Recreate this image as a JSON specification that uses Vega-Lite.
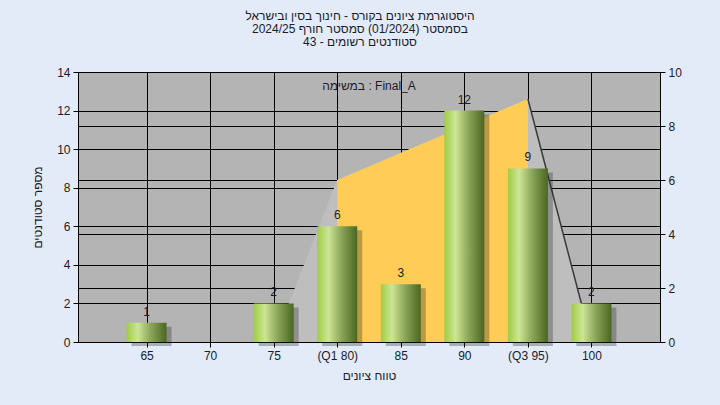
{
  "$schema": "https://vega.github.io/schema/vega-lite/v6.json",
  "width": 582,
  "height": 270,
  "autosize": "none",
  "padding": {"left": 78, "top": 72, "right": 60, "bottom": 63},
  "background": "#E2EBF7",
  "title": {
    "text": ["היסטוגרמת ציונים בקורס - חינוך בסין ובישראל", "בסמסטר  (01/2024)  סמסטר חורף 2024/25", "סטודנטים רשומים - 43"],
    "anchor": "middle",
    "dx": -9,
    "offset": 17
  },
  "datasets": {
    "bars": [
      {"score": 65, "count": 1},
      {"score": 75, "count": 2},
      {"score": 80, "count": 6},
      {"score": 85, "count": 3},
      {"score": 90, "count": 12},
      {"score": 95, "count": 9},
      {"score": 100, "count": 2}
    ],
    "dist": [
      {"score": 75, "v": 0},
      {"score": 80, "v": 6},
      {"score": 95, "v": 9},
      {"score": 100, "v": 0}
    ]
  },
  "encoding": {
    "x": {
      "field": "score",
      "type": "quantitative",
      "scale": {"domain": [60, 105], "nice": false, "zero": false},
      "axis": {
        "values": [65, 70, 75, 80, 85, 90, 95, 100],
        "labelExpr": "datum.value == 80 ? '(Q1 80)' : datum.value == 95 ? '(Q3 95)' : datum.label",
        "title": "טווח ציונים",
        "grid": true,
        "labelPadding": 3,
        "titlePadding": 9
      }
    }
  },
  "layer": [
    {
      "data": {"name": "dist"},
      "encoding": {
        "y": {
          "field": "v",
          "type": "quantitative",
          "scale": {"domain": [0, 10], "nice": false},
          "axis": {"orient": "right", "values": [0, 2, 4, 6, 8, 10], "title": null, "grid": true, "labelPadding": 3}
        }
      },
      "layer": [
        {"mark": {"type": "area", "color": "#BEBEBE", "opacity": 1}},
        {"transform": [{"filter": "datum.score >= 80 && datum.score <= 95"}], "mark": {"type": "area", "color": "#FFCC55", "opacity": 1}},
        {"transform": [{"filter": "datum.score >= 95"}], "mark": {"type": "line", "color": "#3a3a3a", "strokeWidth": 1.5}}
      ]
    },
    {
      "data": {"name": "bars"},
      "encoding": {
        "y": {
          "field": "count",
          "type": "quantitative",
          "scale": {"domain": [0, 14], "nice": false},
          "axis": {"orient": "left", "values": [0, 2, 4, 6, 8, 10, 12, 14], "title": "מספר סטודנטים", "grid": true, "labelPadding": 3, "titlePadding": 12}
        }
      },
      "layer": [
        {"mark": {"type": "bar", "width": 40, "color": "#202020", "opacity": 0.3, "xOffset": 5, "yOffset": 4}},
        {"mark": {"type": "bar", "width": 40, "color": {"gradient": "linear", "x1": 0, "y1": 0, "x2": 1, "y2": 0, "stops": [
          {"offset": 0, "color": "#9FCC45"},
          {"offset": 0.28, "color": "#CCE597"},
          {"offset": 0.6, "color": "#8CA65A"},
          {"offset": 1, "color": "#4A6620"}
        ]}}},
        {"mark": {"type": "text", "baseline": "bottom", "dy": -4, "fontSize": 12, "font": "Liberation Sans", "color": "#1b1b2b"}, "encoding": {"text": {"field": "count", "type": "quantitative"}}},
        {"transform": [{"aggregate": [{"op": "max", "field": "score", "as": "score"}, {"op": "max", "field": "count", "as": "count"}]}], "mark": {"type": "text", "fontSize": 12, "font": "Liberation Sans", "color": "#1b1b2b"}, "encoding": {"x": {"datum": 82.5}, "y": {"datum": 13.3}, "text": {"value": "במשימה : Final_A"}}}
      ]
    }
  ],
  "resolve": {"scale": {"y": "independent"}},
  "config": {
    "view": {"fill": "#B4B4B4", "stroke": "#000000"},
    "font": "Liberation Sans",
    "title": {"fontSize": 12, "fontWeight": "normal", "color": "#1b1b2b", "lineHeight": 13, "font": "Liberation Sans"},
    "axis": {
      "labelFont": "Liberation Sans",
      "labelFontSize": 12,
      "labelColor": "#1b1b2b",
      "titleFont": "Liberation Sans",
      "titleFontSize": 12,
      "titleFontWeight": "normal",
      "titleColor": "#1b1b2b",
      "domainColor": "#000000",
      "tickColor": "#000000",
      "gridColor": "#000000",
      "gridOpacity": 1,
      "gridWidth": 1,
      "tickSize": 5,
      "zindex": 0
    }
  }
}
